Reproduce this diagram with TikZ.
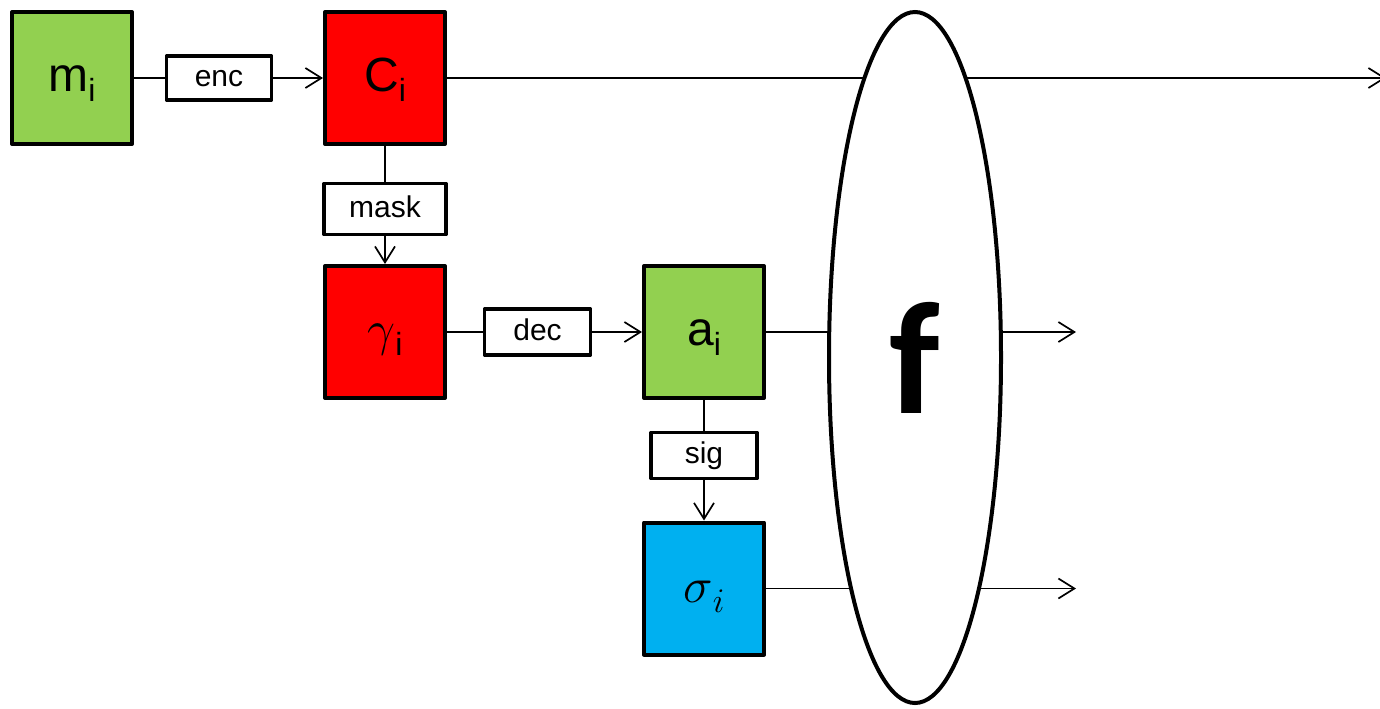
\documentclass[tikz,border=0pt]{standalone}
\usepackage{fontspec}
\setmainfont{Liberation Sans}
\newfontfamily\ffont{Carlito}
\usetikzlibrary{shapes.geometric,arrows.meta}

% subscript "i" set smaller and lowered below the baseline
\newcommand{\subi}[1]{\raisebox{-5pt}{\fontsize{16}{16}\selectfont #1}}

\definecolor{boxgreen}{HTML}{92D050}
\definecolor{boxred}{HTML}{FF0000}
\definecolor{boxblue}{HTML}{00B0F0}

\begin{document}
\begin{tikzpicture}[x=0.5pt,y=-0.5pt,
  block/.style={draw, line width=2pt, line join=round, inner sep=0pt,
    minimum width=60pt, minimum height=66pt, font=\fontsize{24}{24}\selectfont,
    text height=20pt, text depth=6.5pt},
  opbox/.style={draw, fill=white, line width=1.6pt, line join=round, inner sep=0pt,
    minimum width=53pt, minimum height=23pt, font=\fontsize{15}{15}\selectfont,
    text height=12pt, text depth=4pt},
  conn/.style={line width=0.85pt},
  arr/.style={conn, -{Straight Barb[length=8pt,width=10pt,line width=0.85pt]}}]
  \useasboundingbox (0,0) rectangle (1380,708);

  % data blocks
  \node[block, fill=boxgreen] (m)     at (72,78)    {m\subi{i}};
  \node[block, fill=boxred]   (c)     at (385,78)   {C\subi{i}};
  \node[block, fill=boxred]   (gam)   at (385,332)  {$\gamma$\subi{i}};
  \node[block, fill=boxgreen] (a)     at (704,332)  {a\subi{i}};
  \node[block, fill=boxblue]  (sigma) at (704,588.5){$\sigma$\subi{$i$}};

  % operations
  \node[opbox, minimum width=52.5pt, minimum height=22pt] (enc)  at (219,78)    {enc};
  \node[opbox, minimum width=61pt, minimum height=25.5pt] (mask) at (385,209)   {mask};
  \node[opbox] (dec) at (537.5,332)  {dec};
  \node[opbox] (sig) at (704,455.5)  {sig};

  % free ends of the outputs
  \coordinate (out1) at (1386,78);
  \coordinate (out2) at (1076,332);
  \coordinate (out3) at (1076,588.5);

  % connectors
  \draw[conn] (m.east) -- (enc.west);
  \draw[arr]  (enc.east) -- (c.west);
  \draw[conn] (c.south) -- (mask.north);
  \draw[arr]  (mask.south) -- (gam.north);
  \draw[conn] (gam.east) -- (dec.west);
  \draw[arr]  (dec.east) -- (a.west);
  \draw[conn] (a.south) -- (sig.north);
  \draw[arr]  (sig.south) -- (sigma.north);
  \draw[arr]  (c.east) -- (out1);
  \draw[arr]  (a.east) -- (out2);
  \draw[arr]  (sigma.east) -- (out3);

  % combining function, drawn over the passing lines
  \node[ellipse, draw, fill=white, line width=2pt, inner sep=0pt,
    minimum width=86pt, minimum height=345.5pt] (f) at (915,357.5)
    {\ffont\bfseries\fontsize{80}{80}\selectfont f};
\end{tikzpicture}
\end{document}
